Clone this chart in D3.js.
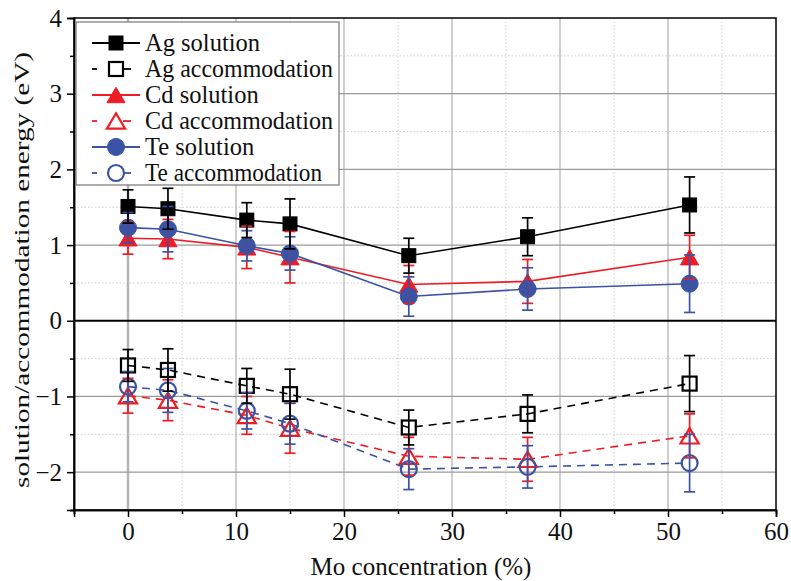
<!DOCTYPE html>
<html>
<head>
<meta charset="utf-8">
<script src="https://cdn.jsdelivr.net/npm/d3@7"></script>
<style>
  body { margin: 0; background: #fff; }
  text { font-family: "Liberation Serif", "DejaVu Serif", serif; }
</style>
</head>
<body>
<div id="chart"></div>
<script>
// Mo concentration (%)
var moConc = [0, 3.7, 11, 15, 26, 37, 52];

var agSolution = [1.51, 1.48, 1.33, 1.28, 0.86, 1.11, 1.53];
var agSolutionErr = [0.22, 0.27, 0.23, 0.33, 0.23, 0.25, 0.37];
var agAccom = [-0.59, -0.65, -0.86, -0.97, -1.41, -1.23, -0.83];
var agAccomErr = [0.21, 0.28, 0.23, 0.33, 0.23, 0.25, 0.37];

var cdSolution = [1.09, 1.08, 0.97, 0.84, 0.48, 0.52, 0.84];
var cdSolutionErr = [0.21, 0.26, 0.28, 0.34, 0.25, 0.29, 0.29];
var cdAccom = [-0.99, -1.05, -1.25, -1.42, -1.79, -1.83, -1.52];
var cdAccomErr = [0.23, 0.27, 0.25, 0.33, 0.25, 0.29, 0.29];

var teSolution = [1.23, 1.21, 0.99, 0.89, 0.32, 0.42, 0.49];
var teSolutionErr = [0.2, 0.3, 0.2, 0.22, 0.26, 0.28, 0.38];
var teAccom = [-0.87, -0.92, -1.19, -1.36, -1.96, -1.93, -1.88];
var teAccomErr = [0.2, 0.29, 0.24, 0.27, 0.27, 0.28, 0.38];

var xTicks = [0, 10, 20, 30, 40, 50, 60];
var yTicks = [-2, -1, 0, 1, 2, 3, 4];

var series = [
  {name: "Cd solution", y: cdSolution, err: cdSolutionErr, color: "#ee1c25", shape: "triangle", filled: true, dashed: false},
  {name: "Cd accommodation", y: cdAccom, err: cdAccomErr, color: "#ee1c25", shape: "triangle", filled: false, dashed: true},
  {name: "Te solution", y: teSolution, err: teSolutionErr, color: "#3a53a4", shape: "circle", filled: true, dashed: false},
  {name: "Te accommodation", y: teAccom, err: teAccomErr, color: "#3a53a4", shape: "circle", filled: false, dashed: true},
  {name: "Ag solution", y: agSolution, err: agSolutionErr, color: "#000000", shape: "square", filled: true, dashed: false},
  {name: "Ag accommodation", y: agAccom, err: agAccomErr, color: "#000000", shape: "square", filled: false, dashed: true}
];
var legendOrder = ["Ag solution", "Ag accommodation", "Cd solution", "Cd accommodation", "Te solution", "Te accommodation"];

var W = 791, H = 581;
var margin = {top: 18, right: 15, bottom: 71, left: 74};
var width = W - margin.left - margin.right,
    height = H - margin.top - margin.bottom;

var svg = d3.select("#chart").append("svg")
  .attr("width", W)
  .attr("height", H);

var g = svg.append("g")
  .attr("transform", "translate(" + margin.left + "," + margin.top + ")");

var x = d3.scaleLinear().domain([-5, 60]).range([0, width]);
var y = d3.scaleLinear().domain([-2.5, 4]).range([height, 0]);

// grid
g.selectAll(".gx-minor").data([5, 15, 25, 35, 45, 55]).enter().append("line")
  .attr("x1", function(d){ return x(d); }).attr("x2", function(d){ return x(d); })
  .attr("y1", 0).attr("y2", height)
  .attr("stroke", "#cfcfcf").attr("stroke-width", 1).attr("stroke-dasharray", "1.5,2");
g.selectAll(".gy-minor").data([-2.5, -1.5, -0.5, 0.5, 1.5, 2.5, 3.5]).enter().append("line")
  .attr("x1", 0).attr("x2", width)
  .attr("y1", function(d){ return y(d); }).attr("y2", function(d){ return y(d); })
  .attr("stroke", "#cfcfcf").attr("stroke-width", 1).attr("stroke-dasharray", "1.5,2");
g.selectAll(".gx").data([0, 10, 20, 30, 40, 50]).enter().append("line")
  .attr("x1", function(d){ return x(d); }).attr("x2", function(d){ return x(d); })
  .attr("y1", 0).attr("y2", height)
  .attr("stroke", "#b5b5b5").attr("stroke-width", function(d){ return d === 0 ? 2.5 : 1.3; });
g.selectAll(".gy").data([-2, -1, 1, 2, 3]).enter().append("line")
  .attr("x1", 0).attr("x2", width)
  .attr("y1", function(d){ return y(d); }).attr("y2", function(d){ return y(d); })
  .attr("stroke", "#9a9a9a").attr("stroke-width", 1.2);
g.append("line")
  .attr("x1", 0).attr("x2", width).attr("y1", y(0)).attr("y2", y(0))
  .attr("stroke", "#000").attr("stroke-width", 2);

// lines
var line = d3.line()
  .x(function(d){ return x(d[0]); })
  .y(function(d){ return y(d[1]); });

series.forEach(function(s){
  g.append("path")
    .datum(moConc.map(function(c, i){ return [c, s.y[i]]; }))
    .attr("fill", "none")
    .attr("stroke", s.color)
    .attr("stroke-width", 1.6)
    .attr("stroke-dasharray", s.dashed ? "8,6" : null)
    .attr("d", line);
});

function drawMarker(sel, s, cx, cy, size, bg) {
  var fill = s.filled ? s.color : (bg || "none");
  var sw = s.filled ? 1 : 2.2;
  if (s.shape === "square") {
    var a = size;
    sel.append("rect")
      .attr("x", cx - a / 2).attr("y", cy - a / 2).attr("width", a).attr("height", a)
      .attr("fill", fill).attr("stroke", s.color).attr("stroke-width", sw);
  } else if (s.shape === "circle") {
    sel.append("circle")
      .attr("cx", cx).attr("cy", cy).attr("r", s.filled ? size / 2 + 1.5 : size / 2 + 1)
      .attr("fill", fill).attr("stroke", s.color).attr("stroke-width", sw);
  } else {
    var h = size * 1.1, w = size * 1.3;
    sel.append("path")
      .attr("d", "M" + cx + "," + (cy - h / 2) + "L" + (cx + w / 2) + "," + (cy + h / 2) + "L" + (cx - w / 2) + "," + (cy + h / 2) + "Z")
      .attr("fill", fill).attr("stroke", s.color).attr("stroke-width", sw)
      .attr("stroke-linejoin", "miter");
  }
}

// markers
series.forEach(function(s){
  var mg = g.append("g");
  moConc.forEach(function(c, i){
    drawMarker(mg, s, x(c), y(s.y[i]), 14);
  });
});

// error bars
series.forEach(function(s){
  var eg = g.append("g").attr("stroke", s.color).attr("stroke-width", 1.7);
  moConc.forEach(function(c, i){
    var cx = x(c), y0 = y(s.y[i] - s.err[i]), y1 = y(s.y[i] + s.err[i]);
    eg.append("line").attr("x1", cx).attr("x2", cx).attr("y1", y0).attr("y2", y1);
    eg.append("line").attr("x1", cx - 5.5).attr("x2", cx + 5.5).attr("y1", y0).attr("y2", y0);
    eg.append("line").attr("x1", cx - 5.5).attr("x2", cx + 5.5).attr("y1", y1).attr("y2", y1);
  });
});

// frame
g.append("rect")
  .attr("x", 0).attr("y", 0).attr("width", width).attr("height", height)
  .attr("fill", "none").attr("stroke", "#000").attr("stroke-width", 1.5);

// axes
g.append("g")
  .attr("transform", "translate(0," + height + ")")
  .call(d3.axisBottom(x).tickValues(xTicks).tickSize(7).tickPadding(5).tickFormat(d3.format("d")));
g.append("g")
  .attr("transform", "translate(0," + height + ")")
  .call(d3.axisBottom(x).tickValues([-5, 5, 15, 25, 35, 45, 55]).tickSize(4).tickFormat(""));
g.append("g")
  .call(d3.axisLeft(y).tickValues(yTicks).tickSize(7).tickPadding(5)
    .tickFormat(function(d){ return d < 0 ? "\u2212" + Math.abs(d) : d; }));
g.append("g")
  .call(d3.axisLeft(y).tickValues([-2.5, -1.5, -0.5, 0.5, 1.5, 2.5, 3.5]).tickSize(4).tickFormat(""));

g.selectAll(".domain").attr("stroke", "#000").attr("stroke-width", 1.5);
g.selectAll(".tick line").attr("stroke", "#000").attr("stroke-width", 1.5);
g.selectAll(".tick text")
  .style("font-family", "'Liberation Serif', serif")
  .attr("font-size", 25).attr("fill", "#111");

// axis titles
svg.append("text")
  .attr("x", 421).attr("y", 575)
  .attr("text-anchor", "middle")
  .attr("font-size", 25).attr("fill", "#111")
  .text("Mo concentration (%)");
svg.append("text")
  .attr("transform", "translate(29,270) rotate(-90)")
  .attr("text-anchor", "middle")
  .attr("font-size", 22).attr("fill", "#111")
  .attr("textLength", 436).attr("lengthAdjust", "spacingAndGlyphs")
  .text("solution/accommodation energy (eV)");

// legend
var lg = svg.append("g").attr("transform", "translate(76,22)");
lg.append("rect")
  .attr("x", 0).attr("y", 0).attr("width", 263).attr("height", 163)
  .attr("fill", "#fff").attr("stroke", "#777").attr("stroke-width", 1.2);
legendOrder.forEach(function(name, i){
  var s = series.filter(function(d){ return d.name === name; })[0];
  var ry = 21 + i * 26;
  var segs = s.dashed ? [[16, 21], [47, 55]] : [[16, 64]];
  segs.forEach(function(p){
    lg.append("line")
      .attr("x1", p[0]).attr("x2", p[1]).attr("y1", ry).attr("y2", ry)
      .attr("stroke", s.color).attr("stroke-width", 1.8);
  });
  drawMarker(lg, s, 40, ry, 14, "#fff");
  lg.append("text")
    .attr("x", 69).attr("y", ry + 8)
    .attr("font-size", 24.5).attr("fill", "#111")
    .attr("textLength", name.length > 12 ? [0, 188, 0, 188, 0, 177][i] || null : null)
    .attr("lengthAdjust", "spacingAndGlyphs")
    .text(name);
});
</script>
</body>
</html>
